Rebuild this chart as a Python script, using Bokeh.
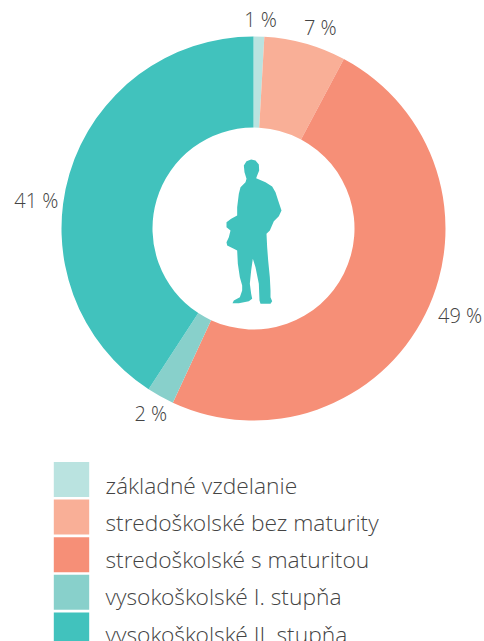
from math import pi, cos, sin
from bokeh.plotting import figure
from bokeh.models import Range1d
from bokeh.core.properties import value
from bokeh.embed import file_html
from bokeh.resources import INLINE

categories = [" základné vzdelanie", "stredoškolské bez maturity", "stredoškolské s maturitou",
              "vysokoškolské I. stupňa", "vysokoškolské II. stupňa"]
shares = [0.9, 6.9, 49.1, 2.3, 40.8]
share_labels = ["1 %", "7 %", "49 %", "2 %", "41 %"]
colors = ["#BAE3E0", "#F9AF97", "#F68F77", "#88D0CB", "#41C2BD"]

# small adjustments of each share label away from its slice's mid-angle (px: right, up)
label_nudge = [(1, -5), (9, -5), (15, 8), (1, 2.5), (-12, -33)]

# outline of the person pictogram, in px of a 90 x 160 box (decorative shape, not data)
person_x = [122,135,145,146,140,137,165,185,195,203,213,205,190,178,168,170,173,178,180,180,185,180,150,147,145,135,127,122,118,122,125,115,85,66,70,88,95,95,88,82,80,70,50,48,55,60,48,48,62,80,80,85,90,105,108,102,100,108]
person_y = [27,30,42,60,75,83,95,108,125,150,180,197,212,240,250,290,330,380,420,440,452,460,460,450,400,350,325,360,400,430,445,452,458,458,450,440,420,405,380,340,300,295,285,275,260,240,230,215,205,195,170,130,110,95,85,65,45,32]

W, H = 484, 641
FONT = "Open Sans Light"
cx, cy = 253.0, H - 228.0
R_OUT, R_IN = 192, 101

p = figure(width=W, height=H, x_range=Range1d(0, W), y_range=Range1d(0, H),
           output_backend="svg", toolbar_location=None, min_border=0,
           x_axis_location=None, y_axis_location=None)
p.grid.visible = False
p.outline_line_color = None
p.background_fill_color = "white"

cum = 0.0
lx, ly = [], []
for s, c, n in zip(shares, colors, label_nudge):
    a0 = pi / 2 - cum / 100 * 2 * pi
    a1 = pi / 2 - (cum + s) / 100 * 2 * pi
    p.annular_wedge(x=cx, y=cy, inner_radius=R_IN, outer_radius=R_OUT, start_angle=a0, end_angle=a1,
                    direction="clock", fill_color=c, line_color=None)
    mid = (a0 + a1) / 2
    lx.append(cx + (R_OUT + 22) * cos(mid) + n[0])
    ly.append(cy + (R_OUT + 22) * sin(mid) + n[1])
    cum += s

p.text(x=lx, y=ly, text=share_labels, text_align="center", text_baseline="middle",
       text_font=value(FONT), text_font_size="20px", text_color="#444444")

p.patch(x=[210 + v / 3 for v in person_x], y=[H - (150 + v / 3) for v in person_y],
        fill_color="#41C2BD", line_color=None)

# legend: swatches and labels, one row per category
rows = range(len(categories))
p.rect(x=[71] * 5, y=[H - (479 + 37.6 * i) for i in rows], width=35.4, height=35,
       fill_color=colors, line_color=None)
p.text(x=[105] * 5, y=[H - (484.5 + 37.3 * i) for i in rows], text=categories,
       text_align="left", text_baseline="alphabetic",
       text_font=value(FONT), text_font_size="22.8px", text_color="#444444")

open("out.html", "w").write(file_html(p, INLINE))
